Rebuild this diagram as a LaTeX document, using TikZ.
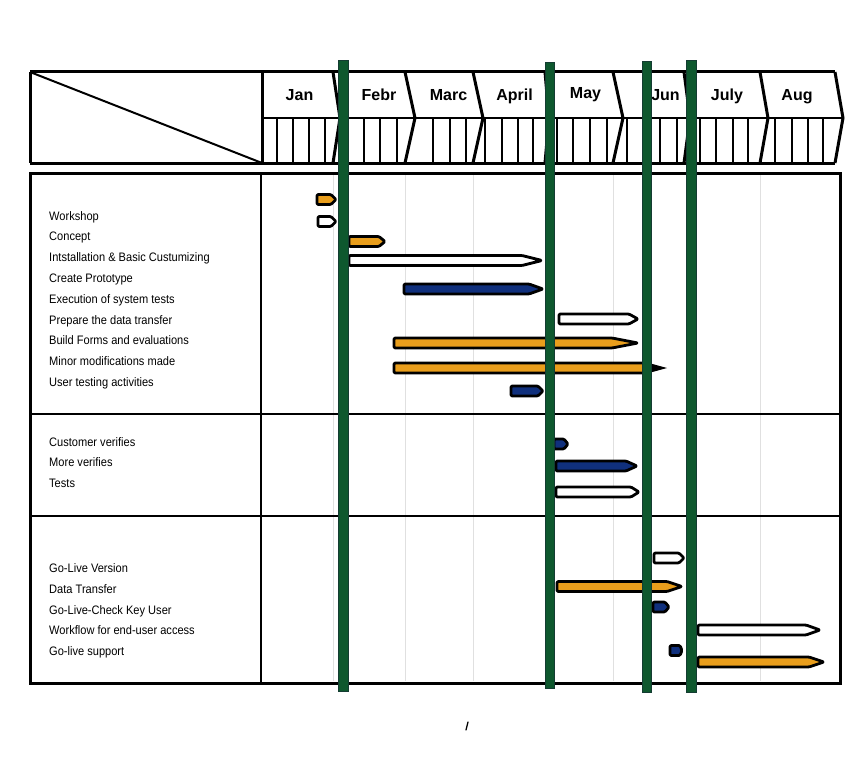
\documentclass[tikz,border=0pt]{standalone}
\usepackage{fontspec}
\setmainfont{Liberation Sans}
\newfontfamily\labfont[FakeStretch=0.9]{Liberation Sans}
\definecolor{orangebar}{RGB}{233,158,28}
\definecolor{bluebar}{RGB}{16,48,125}
\definecolor{gfill}{RGB}{14,88,46}
\definecolor{gedge}{RGB}{20,60,50}
\newcommand\gbar[5]{%
  \draw[barline, fill=#5] ({#1},{#3-5}) -- ({#2-#4},{#3-5}) -- ({#2},{#3}) -- ({#2-#4},{#3+5}) -- ({#1},{#3+5}) -- cycle;}
\begin{document}
\begin{tikzpicture}[x=1pt,y=-1pt,
  hdr/.style={line width=3pt, line join=miter},
  tickline/.style={line width=1.8pt},
  frame/.style={line width=3pt},
  divline/.style={line width=2pt},
  gridline/.style={black!12, line width=1pt},
  barline/.style={line width=2.8pt, line join=round, rounded corners=1.2pt},
  gline/.style={fill=gfill, draw=gedge, line width=0.8pt},
  monthlbl/.style={font=\bfseries\fontsize{16}{18}\selectfont, anchor=base, inner sep=0pt},
  tasklbl/.style={font=\labfont\fontsize{12.3}{14}\selectfont, anchor=base west, inner sep=0pt}]
\useasboundingbox (0,0) rectangle (868,768);
\fill[white] (0,0) rectangle (868,768);

% faint grid lines in body
\foreach \gx in {333,405,473,545,613,686,760}
  \draw[gridline] (\gx,175) -- (\gx,681);

% body frame
\draw[frame] (30,173) rectangle (840,683);
\draw[divline] (261,173) -- (261,683);
\draw[divline] (30,414) -- (840,414);
\draw[divline] (30,516) -- (840,516);

% header
\draw[hdr] (30,72) -- (835,72);
\draw[hdr] (30,163) -- (835,163);
\draw[hdr] (30,72) -- (30,163);
\draw[hdr] (262,72) -- (262,163);
\draw[line width=2pt] (30,72) -- (262,163);
\draw[divline] (262,118) -- (843,118);
\foreach \b/\t in {333/340,405/415,473/483,545/549,613/623,684/690,760/768,835/843}
  \draw[hdr] (\b,72) -- (\t,118) -- (\b,163);
\foreach \tx in {277,293,309,325,348,364,380,397,433,450,466,485,502,518,533,557,573,590,607,627,644,660,677,700,716,733,748,775,792,808,823}
  \draw[tickline] (\tx,118) -- (\tx,163);

% month labels
\node[monthlbl] (jan) at (299.5,100) {Jan};
\node[monthlbl] (feb) at (379,100) {Febr};
\node[monthlbl] (mar) at (448.5,100) {Marc};
\node[monthlbl] (apr) at (514.5,100) {April};
\node[monthlbl] (may) at (585.5,99) {May};
\node[monthlbl] (jun) at (665.5,100) {Jun};
\node[monthlbl] (jul) at (727,100) {July};
\node[monthlbl] (aug) at (797,100) {Aug};

% task labels
\node[tasklbl] (t1) at (49,220) {Workshop};
\node[tasklbl] (t2) at (49,240.8) {Concept};
\node[tasklbl] (t3) at (49,261.6) {Intstallation \& Basic Custumizing};
\node[tasklbl] (t4) at (49,282.4) {Create Prototype};
\node[tasklbl] (t5) at (49,303.2) {Execution of system tests};
\node[tasklbl] (t6) at (49,324) {Prepare the data transfer};
\node[tasklbl] (t7) at (49,344.8) {Build Forms and evaluations};
\node[tasklbl] (t8) at (49,365.6) {Minor modifications made};
\node[tasklbl] (t9) at (49,386.4) {User testing activities};
\node[tasklbl] (s1) at (49,446) {Customer verifies};
\node[tasklbl] (s2) at (49,466.8) {More verifies};
\node[tasklbl] (s3) at (49,487.6) {Tests};
\node[tasklbl] (g1) at (49,572.5) {Go-Live Version};
\node[tasklbl] (g2) at (49,593.3) {Data Transfer};
\node[tasklbl] (g3) at (49,614.1) {Go-Live-Check Key User};
\node[tasklbl] (g4) at (49,634.9) {Workflow for end-user access};
\node[tasklbl] (g5) at (49,655.7) {Go-live support};

% bars
\gbar{317}{336}{199.5}{5}{orangebar}
\gbar{318}{336}{221.5}{5}{white}
\gbar{349}{385}{241.5}{6}{orangebar}
\gbar{349}{542}{260.5}{20}{white}
\gbar{404}{543}{289}{14}{bluebar}
\gbar{559}{638}{319}{9}{white}
\gbar{394}{638}{343}{26}{orangebar}
\draw[barline, fill=orangebar] (394,363) -- (648,363) -- (648,373) -- (394,373) -- cycle;
\fill[black] (647,362.5) -- (667,368) -- (647,373.5) -- cycle;
\gbar{511}{543}{391}{5}{bluebar}
\gbar{554}{568}{444}{4}{bluebar}
\gbar{556}{637}{466}{11}{bluebar}
\gbar{556}{639}{492}{8}{white}
\gbar{654}{684}{558}{5}{white}
\gbar{557}{682}{586.5}{15}{orangebar}
\gbar{653}{669}{607}{4}{bluebar}
\gbar{698}{820}{630}{14}{white}
\gbar{670}{682}{650.5}{2}{bluebar}
\gbar{698}{824}{662}{15}{orangebar}

% green milestone lines
\draw[gline] (338,60) rectangle (348,691);
\draw[gline] (545,62) rectangle (554,688);
\draw[gline] (642,61) rectangle (651,692);
\draw[gline] (686,60) rectangle (696,692);

% stray mark
\draw[line width=1.3pt, line cap=round] (468,722) -- (466,730);
\end{tikzpicture}
\end{document}
